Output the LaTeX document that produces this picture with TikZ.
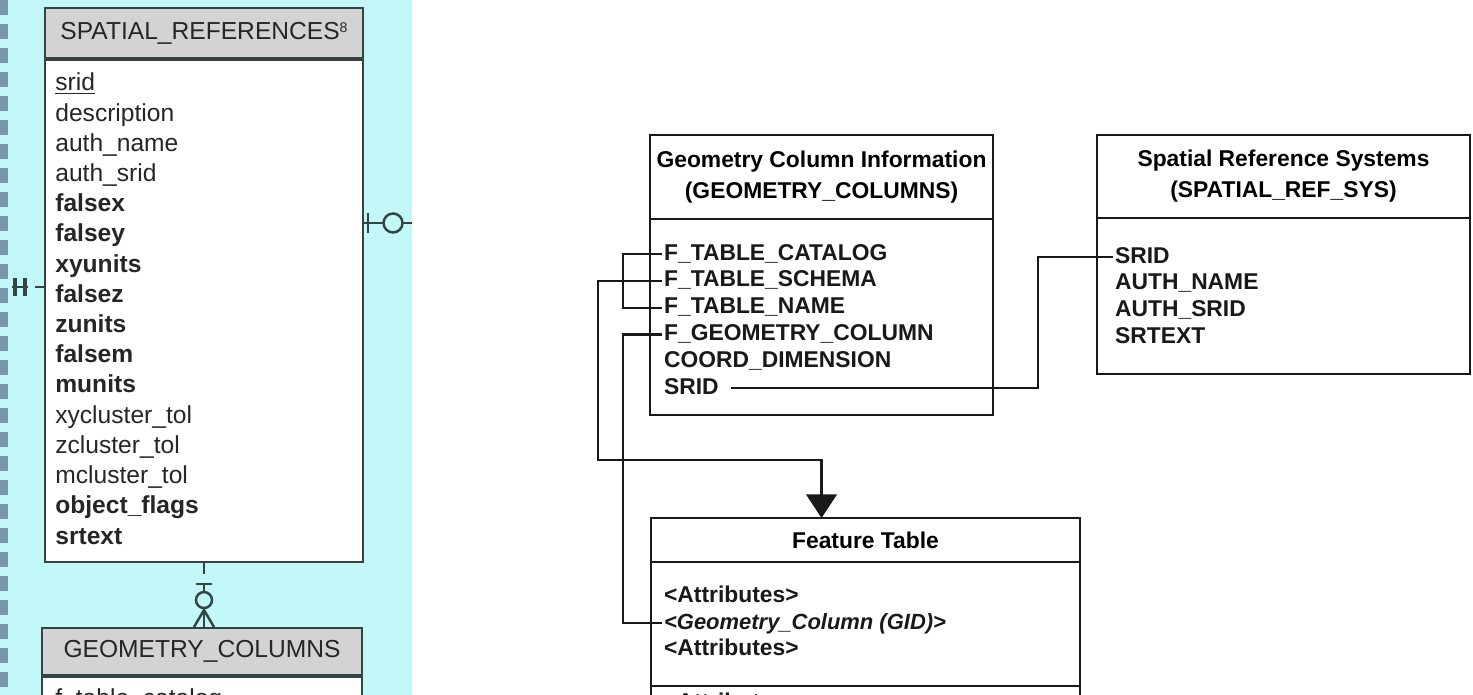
\documentclass[tikz,border=0pt]{standalone}
\usepackage{fontspec}
\setmainfont{Liberation Sans}
\usetikzlibrary{positioning,arrows.meta,calc}
\definecolor{erdcyan}{HTML}{C2F8F8}
\definecolor{erdgrey}{HTML}{D3D3D3}
\definecolor{erdedge}{HTML}{344444}
\definecolor{erdink}{HTML}{262626}
\definecolor{erdstrip}{HTML}{7897AF}
\tikzset{
  ohead/.style ={draw=erdedge, line width=1.2pt, fill=erdgrey, inner sep=0pt,
                 text=erdink, font=\fontsize{14}{17}\selectfont},
  obody/.style ={draw=erdedge, line width=1.2pt, fill=white, inner sep=0pt},
  oattr/.style ={anchor=base west, inner sep=0pt, text=erdink,
                 font=\fontsize{14}{17}\selectfont},
  oattrb/.style={oattr, font=\fontsize{14}{17}\selectfont\bfseries},
  card/.style  ={draw=erdedge, line width=1.4pt},
  nhead/.style ={draw=black!90, line width=1.6pt, fill=white, outer sep=0pt,
                 align=center, font=\fontsize{13}{17.6}\selectfont\bfseries},
  nbody/.style ={draw=black!90, line width=1.6pt, fill=white, outer sep=0pt},
  nattr/.style ={anchor=west, inner sep=1pt, text height=0.8em, text depth=0.1em,
                 text=black!90, font=\fontsize{13}{15}\selectfont\bfseries},
  fk/.style    ={draw=black!90, line width=1.2pt},
  edgestrip/.style={draw=erdstrip, line width=0.16cm, dash pattern=on 0.3cm off 0.18cm},
}

\begin{document}
\begin{tikzpicture}[x=0.02cm, y=-0.02cm]
  \useasboundingbox (0,0) rectangle (1473,695);
  \clip (0,0) rectangle (1473,695);
  \fill[erdcyan] (0,0) rectangle (412,695);
  \draw[edgestrip] (4,0) -- (4,695);

  % Oracle tables
  \node[ohead, minimum width=6.36cm, minimum height=1cm] (srHead) at (204,33)
    {SPATIAL\_REFERENCES\raisebox{0.5ex}{\fontsize{8}{8}\selectfont 8}};
  \node[obody, minimum width=6.36cm, minimum height=10.04cm, below=0pt of srHead] (srBody) {};
  \foreach [count=\i from 0] \f/\s in {\underline{srid}/oattr, description/oattr,
      auth\_name/oattr, auth\_srid/oattr, falsex/oattrb, falsey/oattrb, xyunits/oattrb,
      falsez/oattrb, zunits/oattrb, falsem/oattrb, munits/oattrb, xycluster\_tol/oattr,
      zcluster\_tol/oattr, mcluster\_tol/oattr, object\_flags/oattrb, srtext/oattrb} {
    \node[\s] (sr\i) at (55,91+\i*30.2) {\f};
  }

  \node[ohead, minimum width=6.4cm, minimum height=0.94cm] (gdHead) at (202,651.5)
    {GEOMETRY\_COLUMNS};
  \node[obody, minimum width=6.4cm, minimum height=2cm, below=0pt of gdHead] (gdBody) {};
  \node[oattr] (gd0) at (55,706) {f\_table\_catalog};

  % cardinality marks
  \coordinate (srOut) at (412,223);
  \draw[card] (srBody.east |- srOut) -- (srOut);
  \draw[card] ($(srBody.east |- srOut)+(4,-10)$) -- ++(0,20);
  \draw[card, fill=erdcyan] ($(srBody.east |- srOut)+(29,0)$) circle (0.19cm);

  \coordinate (srIn) at (12,287);
  \draw[card] (srIn) -- ++(16,0);
  \draw[card, line width=1.8pt] ($(srIn)+(3,-9)$) -- ++(0,18);
  \draw[card, line width=1.8pt] ($(srIn)+(13,-9)$) -- ++(0,18);
  \draw[card] ($(srBody.west |- srIn)+(-9,0)$) -- (srBody.west |- srIn);

  \draw[card] (srBody.south) -- ++(0,11);
  \draw[card] ($(srBody.south)+(0,20)$) -- (srBody.south |- gdHead.north);
  \draw[card] ($(srBody.south)+(-8,21)$) -- ++(16,0);
  \draw[card] ($(srBody.south)+(0,47)$) -- ($(srBody.south |- gdHead.north)+(-10,0)$);
  \draw[card] ($(srBody.south)+(0,47)$) -- ($(srBody.south |- gdHead.north)+(10,0)$);
  \draw[card, fill=erdcyan] ($(srBody.south)+(0,37)$) circle (0.16cm);

  % OGC tables
  \node[nhead, minimum width=6.86cm, minimum height=1.68cm] (gcHead) at (821.5,177)
    {Geometry Column Information\\(GEOMETRY\_COLUMNS)};
  \node[nbody, minimum width=6.86cm, minimum height=3.92cm, below=0pt of gcHead] (gcBody) {};
  \foreach [count=\i from 0] \f in {F\_TABLE\_CATALOG, F\_TABLE\_SCHEMA, F\_TABLE\_NAME,
      F\_GEOMETRY\_COLUMN, COORD\_DIMENSION, SRID} {
    \node[nattr] (gcF\i) at (662,254+\i*26.8) {\f};
  }

  \node[nhead, minimum width=7.46cm, minimum height=1.66cm] (srsHead) at (1283.5,176.5)
    {Spatial Reference Systems\\(SPATIAL\_REF\_SYS)};
  \node[nbody, minimum width=7.46cm, minimum height=3.12cm, below=0pt of srsHead] (srsBody) {};
  \foreach [count=\i from 0] \f in {SRID, AUTH\_NAME, AUTH\_SRID, SRTEXT} {
    \node[nattr] (srsF\i) at (1113,257+\i*26.7) {\f};
  }

  \node[nhead, minimum width=8.58cm, minimum height=0.88cm] (ftHead) at (865.5,540)
    {Feature Table};
  \node[nbody, minimum width=8.58cm, minimum height=2.48cm, below=0pt of ftHead] (ftBody) {};
  \node[nbody, minimum width=8.58cm, minimum height=1.6cm, below=0pt of ftBody] (ftMore) {};
  \node[nattr] (ft0) at (662,596) {<Attributes>};
  \node[nattr, font=\fontsize{12.5}{15}\selectfont\bfseries\itshape] (ft1) at (662,623)
    {<Geometry\_Column (GID)>};
  \node[nattr] (ft2) at (662,649) {<Attributes>};
  \node[nattr] (ft3) at (662,703) {<Attributes>};

  % links
  \draw[fk] (gcF0.west) -- ++(-39,0) |- (gcF2.west);
  \draw[fk, -{Triangle[length=13.5pt, width=17.5pt]}] (gcF1.west) -- ++(-64,0)
    |- ($(gcBody.south |- ftHead.north)+(0,-58)$) -- (gcBody.south |- ftHead.north);
  \draw[fk, line width=1.6pt] (gcF3.west) -- ++(-39,0) |- (ft1.west);
  \draw[fk] ($(gcF5.east)+(10,0)$) -| ($(srsF0.west)+(-75,0)$) -- (srsF0.west);
\end{tikzpicture}
\end{document}
